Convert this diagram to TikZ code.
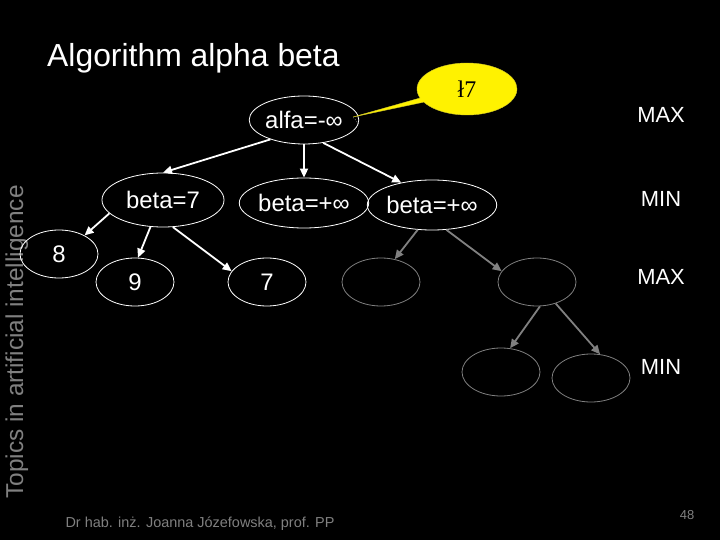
\documentclass[tikz,border=0pt]{standalone}
\usepackage{fontspec}
\setmainfont{Liberation Sans}
\newfontfamily\serifcall{Liberation Serif}
\usetikzlibrary{arrows.meta,shapes.geometric,shapes.callouts}
\begin{document}
\begin{tikzpicture}[x=1bp,y=-1bp,
  tnode/.style={ellipse,draw=white,line width=0.8bp,inner sep=0pt,text=white,font=\fontsize{24}{24}\selectfont},
  big/.style={minimum width=108bp,minimum height=48bp},
  wide/.style={minimum width=122bp,minimum height=54bp},
  small/.style={minimum width=78bp,minimum height=48bp},
  gnode/.style={ellipse,draw=gray,line width=0.8bp,inner sep=0pt,minimum width=78bp,minimum height=48bp},
  warrow/.style={draw=white,line width=1.8bp,-{Triangle[length=9bp,width=8bp]}},
  garrow/.style={draw=gray,line width=1.8bp,-{Triangle[length=9bp,width=8bp]}},
  level/.style={text=white,font=\fontsize{22}{22}\selectfont},
  side/.style={text=gray,font=\fontsize{24.5}{24.5}\selectfont}
]
\useasboundingbox (0,0) rectangle (720,540);
\fill[black] (0,0) rectangle (720,540);

\node[text=white,font=\fontsize{32}{32}\selectfont,anchor=base west,inner sep=0pt] (title) at (47,67) {Algorithm alpha beta};
\node[side,rotate=90,anchor=base,inner sep=0pt] (topic) at (23,342) {Topics in artificial intelligence};

\node[tnode,big] (root) at (304,120) {alfa=-∞};
\node[tnode,wide] (b7) at (163,200) {beta=7};
\node[tnode,big,minimum height=50bp] (bmid) at (304,203) {beta=+∞};
\node[tnode,big,minimum height=50bp] (bright) at (432,205) {beta=+∞};
\node[tnode,small] (n8) at (59,254) {8};
\node[tnode,small] (n9) at (135,282) {9};
\node[tnode,small] (n7) at (267,282) {7};
\node[gnode] (g1) at (381,282) {};
\node[gnode] (g2) at (537,282) {};
\node[gnode] (h1) at (501,372) {};
\node[gnode] (h2) at (591,378) {};

\coordinate (tip) at (353,117);
\node[ellipse callout,fill=yellow,draw=yellow!80!black,line width=0.4bp,inner sep=0pt,
  minimum width=100bp,minimum height=52bp,callout absolute pointer={(tip)},callout pointer arc=10,
  font=\serifcall\fontsize{24}{24}\selectfont] (call) at (467,89) {ł7};
\draw[white,dotted,line width=0.5bp] (root.-4) -- (tip);

\node[level] (l1) at (661,115) {MAX};
\node[level] (l2) at (661,199) {MIN};
\node[level] (l3) at (661,277) {MAX};
\node[level] (l4) at (661,367) {MIN};

\draw[warrow] (root.210) -- (b7.north);
\draw[warrow] (root.south) -- (bmid.north);
\draw[warrow] (root.-50) -- (bright.144);
\draw[warrow] (b7.194) -- (n8.36);
\draw[warrow] (b7.245) -- (n9.83);
\draw[warrow] (b7.290) -- (n7.163);
\draw[garrow] (bright.240) -- (g1.59);
\draw[garrow] (bright.300) -- (g2.163);
\draw[garrow] (g2.277) -- (h1.69);
\draw[garrow] (g2.311) -- (h2.69);

\node[text=gray,font=\fontsize{14.5}{14.5}\selectfont,anchor=west] (foot) at (62,524) {Dr hab. inż. Joanna Józefowska, prof. PP};
\node[text=gray,font=\fontsize{13}{13}\selectfont] (page) at (687,515) {48};
\end{tikzpicture}
\end{document}
